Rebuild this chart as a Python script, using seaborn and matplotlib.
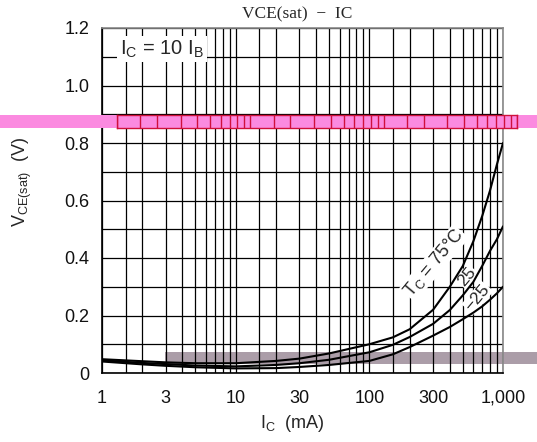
import numpy as np
import pandas as pd
import matplotlib
matplotlib.use("Agg")
import matplotlib.pyplot as plt
from matplotlib.patches import Rectangle
from matplotlib.ticker import FixedLocator, NullFormatter
import seaborn as sns

# collector current (mA) and VCE(sat) (V)
ic_ma = [1, 2, 3, 5, 10, 20, 30, 50, 100, 150, 200, 300, 400, 500, 600, 700, 800, 900, 1000]
vce_75 = [0.048, 0.041, 0.037, 0.034, 0.034, 0.042, 0.050, 0.068, 0.100, 0.124, 0.152,
          0.220, 0.300, 0.372, 0.458, 0.547, 0.635, 0.725, 0.800]
vce_25 = [0.044, 0.035, 0.031, 0.026, 0.023, 0.028, 0.034, 0.046, 0.072, 0.098, 0.125,
          0.171, 0.219, 0.270, 0.317, 0.373, 0.425, 0.465, 0.510]
vce_m25 = [0.040, 0.030, 0.025, 0.020, 0.016, 0.017, 0.021, 0.028, 0.042, 0.065, 0.090,
           0.130, 0.160, 0.187, 0.210, 0.232, 0.255, 0.277, 0.300]
temps = ["75", "25", "-25"]

xtick_vals = [1, 3, 10, 30, 100, 300, 1000]
xtick_labels = ["1", "3", "10", "30", "100", "300", "1,000"]
ytick_vals = [0, 0.2, 0.4, 0.6, 0.8, 1.0, 1.2]
ytick_labels = ["0", "0.2", "0.4", "0.6", "0.8", "1.0", "1.2"]
grid_mult = [1, 1.5, 2, 3, 4, 5, 6, 7, 8, 9]

df = pd.DataFrame({
    "ic": ic_ma * 3,
    "vce": vce_75 + vce_25 + vce_m25,
    "tc": [t for t in temps for _ in ic_ma],
})

sns.set_style("white")
plt.rcParams["font.family"] = ["Liberation Sans", "DejaVu Sans"]

fig = plt.figure(figsize=(5.37, 4.42), dpi=100)
fig.patch.set_facecolor("white")

# gray smear band behind the plot
fig.add_artist(Rectangle((165 / 537, (442 - 364) / 442), 1, 12.5 / 442,
                         transform=fig.transFigure, facecolor="#ab9da8",
                         edgecolor="none", zorder=-1))

ax = fig.add_axes([102 / 537, 69 / 442, 401 / 537, 345 / 442])
ax.set_facecolor("none")

sns.lineplot(data=df, x="ic", y="vce", hue="tc", palette=["black"] * 3,
             linewidth=1.5, legend=False, ax=ax, zorder=3)

ax.set_xscale("log")
ax.set_xlim(1, 1000)
ax.set_ylim(0, 1.2)

grid_x = [m * 10 ** d for d in range(3) for m in grid_mult] + [1000]
ax.xaxis.set_major_locator(FixedLocator(xtick_vals))
ax.xaxis.set_minor_locator(FixedLocator(grid_x))
ax.xaxis.set_minor_formatter(NullFormatter())
ax.set_xticklabels(xtick_labels)
ax.set_yticks(ytick_vals)
ax.set_yticklabels(ytick_labels)
ax.yaxis.set_minor_locator(FixedLocator(np.arange(0, 1.21, 0.1)))
ax.grid(which="both", color="black", linewidth=0.9)
ax.tick_params(which="both", length=0, labelsize=13, colors="#111111")
ax.tick_params(axis="x", pad=12)
ax.tick_params(axis="y", pad=9)

for side in ["left", "bottom"]:
    ax.spines[side].set_color("black")
    ax.spines[side].set_linewidth(1.2)
for side in ["top", "right"]:
    ax.spines[side].set_color("#888888")
    ax.spines[side].set_linewidth(1.2)

ax.set_xlabel(r"I$_\mathregular{C}$  (mA)", fontsize=13)
ax.set_ylabel(r"V$_\mathregular{CE(sat)}$  (V)", fontsize=13)
ax.xaxis.set_label_coords(0.474, -0.115)
ax.yaxis.set_label_coords(-0.17, 0.555)

ax.text(2.8, 1.127, r"I$_\mathregular{C}$ = 10 I$_\mathregular{B}$", fontsize=14.5,
        ha="center", va="center", zorder=4,
        bbox=dict(facecolor="white", edgecolor="none", pad=2))

# curve labels: white box hides the grid, curves stay on top
lbl_box = dict(facecolor="white", edgecolor="none", pad=0.5)
ax.text(305, 0.382, r"T$_\mathregular{C}$ = 75°C", fontsize=13, rotation=50,
        ha="center", va="center", zorder=2.5, bbox=lbl_box)
ax.text(540, 0.334, "25", fontsize=12.5, rotation=50, ha="center", va="center",
        zorder=2.5, bbox=lbl_box)
ax.text(645, 0.262, "−25", fontsize=12.5, rotation=50, ha="center", va="center",
        zorder=2.5, bbox=lbl_box)

fig.text(0.553, 1 - 14 / 442, "VCE(sat)  −  IC", fontsize=12.5,
         family=["Liberation Serif", "DejaVu Serif"], ha="center", va="center")

# pink highlight strip across the figure
fig.add_artist(Rectangle((0, (442 - 128) / 442), 1, 13 / 442,
                         transform=fig.transFigure, facecolor="#fb8ae0",
                         edgecolor="none", zorder=5))
band = fig.add_axes([117 / 537, (442 - 128) / 442, 400 / 537, 13 / 442], zorder=6)
band.set_facecolor("#fb8ae0")
band.set_xscale("log")
band.set_xlim(1, 1000)
band.set_ylim(0, 1)
band.vlines(grid_x, 0, 1, color="#d0103c", linewidth=1)
band.set_xticks([])
band.set_yticks([])
band.minorticks_off()
for s in band.spines.values():
    s.set_color("#d0103c")
    s.set_linewidth(1)

fig.savefig("out.png", dpi=100)
